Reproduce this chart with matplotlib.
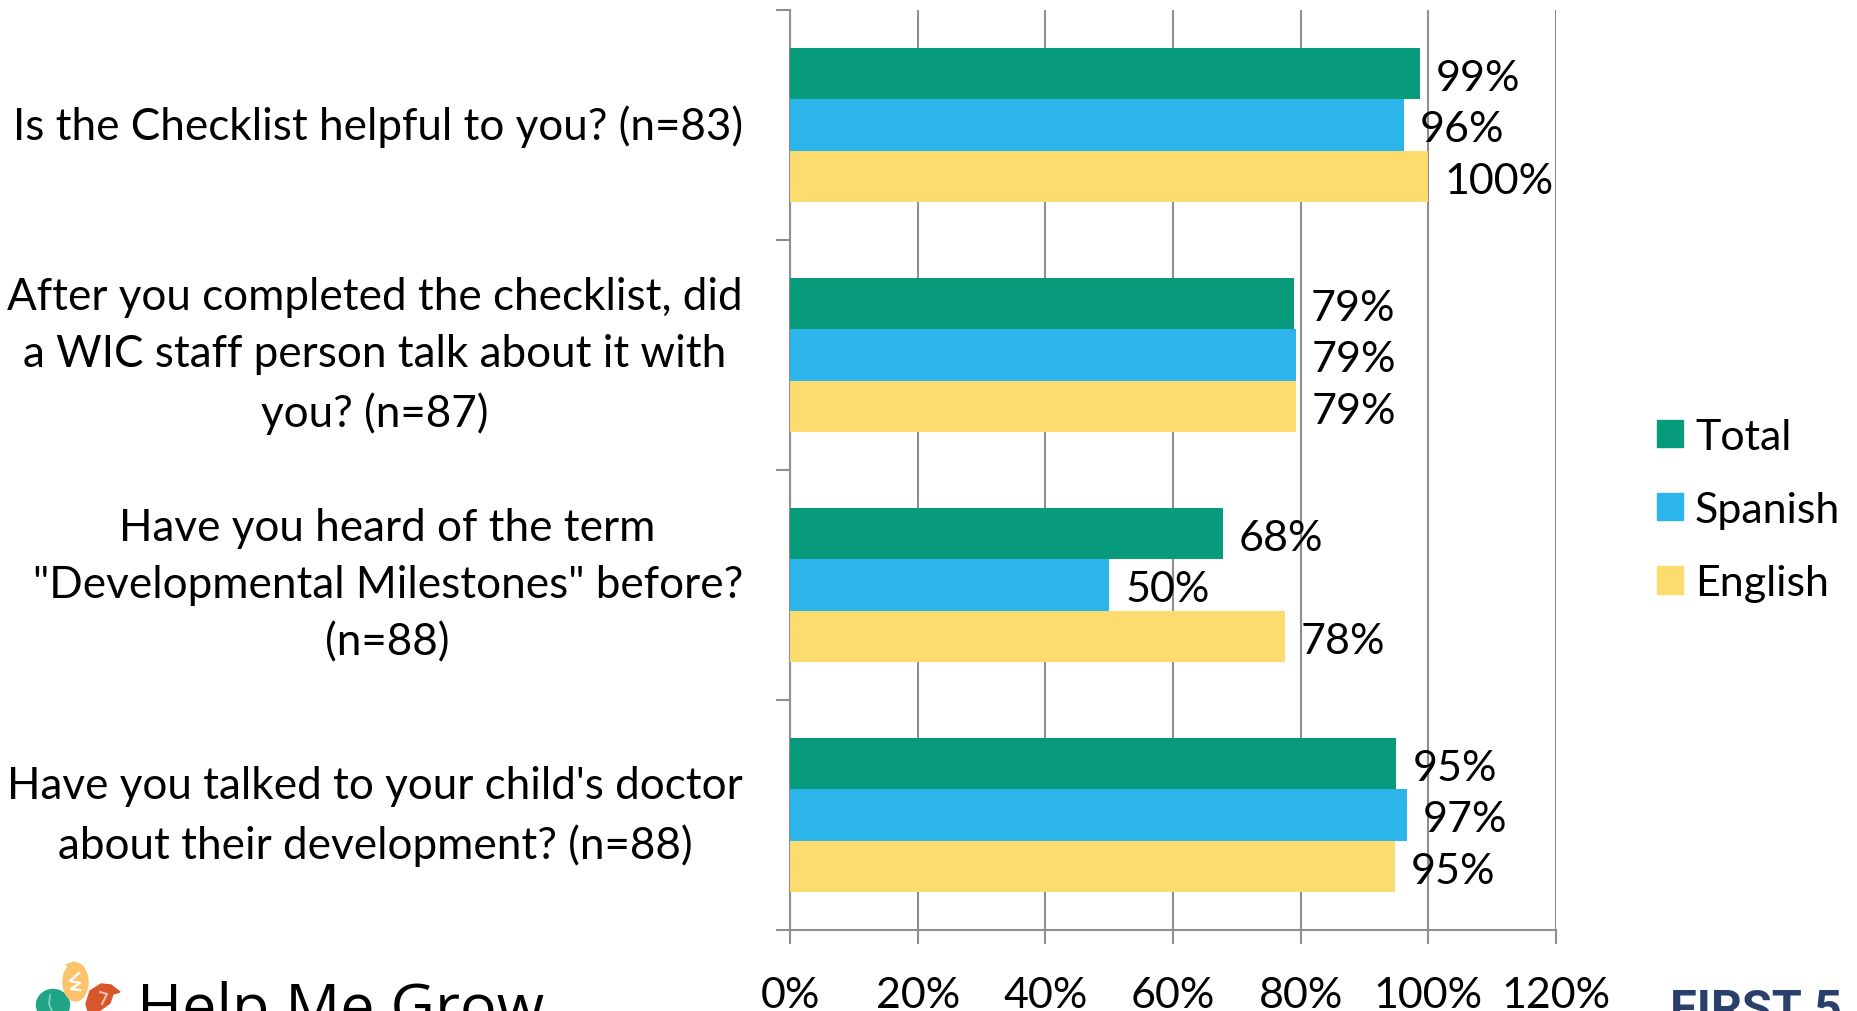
#!/usr/bin/env python3

import matplotlib

matplotlib.use("Agg")
import matplotlib.pyplot as plt
from matplotlib.patches import Ellipse, Patch, Polygon
from matplotlib.transforms import ScaledTranslation

questions = [
    "Is the Checklist helpful to you? (n=83)",
    "After you completed the checklist, did\na WIC staff person talk about it with\nyou? (n=87)",
    'Have you heard of the term\n"Developmental Milestones" before?\n(n=88)',
    "Have you talked to your child's doctor\nabout their development? (n=88)",
]
total = [98.7, 79.0, 67.8, 95.0]
spanish = [96.2, 79.2, 50.0, 96.7]
english = [100.0, 79.2, 77.5, 94.8]
series_names = ["Total", "Spanish", "English"]
series_colors = ["#079b7c", "#2cb5ea", "#fcdc6e"]
x_ticks = [0, 20, 40, 60, 80, 100, 120]

W, H = 1858, 1012
GRID = "#8e8e8e"
FS = 31

plt.rcParams["font.family"] = ["Lato", "DejaVu Sans"]

fig = plt.figure(figsize=(W / 100, H / 100), dpi=100)
ax = fig.add_axes([790 / W, 1 - 931 / H, (1556 - 790) / W, 920 / H])

# ...Three bars per question, Total on top
bar_h = 51.5 / 230
for i, (vals, name, color) in enumerate(zip([total, spanish, english], series_names, series_colors)):
    pos = [q + (i - 1) * bar_h for q in range(len(questions))]
    bars = ax.barh(pos, vals, height=bar_h, color=color, zorder=3)
    for b, v in zip(bars, vals):
        ax.annotate(
            "{:.0f}%".format(v),
            (v, b.get_y() + b.get_height() / 2),
            xytext=(11.5, -3),
            textcoords="offset points",
            va="center",
            ha="left",
            fontsize=FS,
            color="black",
            zorder=4,
        )

ax.set_xlim(0, 120)
ax.set_ylim(3.5, -0.5)
ax.set_xticks(x_ticks)
ax.set_xticklabels(["{:d}%".format(t) for t in x_ticks], fontsize=FS)
ax.set_yticks(range(len(questions)))
ax.set_yticklabels(questions, fontsize=31.7, multialignment="center", linespacing=1.5)
ax.grid(axis="x", color=GRID, linewidth=1.5, zorder=1)

for s in ["top", "right"]:
    ax.spines[s].set_visible(False)
for s in ["left", "bottom"]:
    ax.spines[s].set_color(GRID)
    ax.spines[s].set_linewidth(1.5)

# ...Ticks sit on the band edges on the y axis, labels in the band centres
ax.set_yticks([-0.5, 0.5, 1.5, 2.5, 3.5], minor=True)
ax.tick_params(axis="y", which="minor", length=10, width=1.5, color=GRID)
ax.tick_params(axis="y", which="major", length=0, pad=34)
ax.tick_params(axis="x", length=10, width=1.5, color=GRID, pad=23)

# ...Wrapped labels sit a bit higher than matplotlib centres them
for label in ax.get_yticklabels():
    up = 9 if "\n" in label.get_text() else 2.5
    label.set_transform(label.get_transform() + ScaledTranslation(0, up / 72, fig.dpi_scale_trans))

handles = [Patch(color=c, label=n) for n, c in zip(series_names, series_colors)]
fig.legend(
    handles=handles,
    loc="center left",
    bbox_to_anchor=(1657 / W, 1 - 511 / H),
    frameon=False,
    fontsize=FS,
    handlelength=0.6,
    handleheight=0.6,
    handletextpad=0.28,
    labelspacing=0.82,
    borderpad=0,
    borderaxespad=0,
)

# ...Logos at the bottom, cut by the edge of the page
over = fig.add_axes([0, 0, 1, 1], zorder=5)
over.set_xlim(0, W)
over.set_ylim(H, 0)
over.axis("off")

over.add_patch(Ellipse((53, 1006), 33, 31, color="#1fa586"))
over.plot([50, 49, 52], [996, 1005, 1012], color="#8fd2c2", linewidth=1.2)

over.add_patch(Ellipse((75.5, 983), 25, 38, color="#fcc46a"))
over.add_patch(Polygon([(66, 966), (74, 963), (84, 968), (76, 972)], color="#fcc46a"))
over.plot([79, 70, 80, 71, 80], [974, 982, 984, 990, 991], color="white", linewidth=1.6)

over.add_patch(Polygon([(86, 1005), (90, 992), (101, 985), (111, 986), (120, 993), (113, 995), (110, 1004), (99, 1012), (88, 1012)], color="#d9552b"))
over.plot([102, 107, 100], [1005, 995, 993], color="#f3c9b6", linewidth=1.4)

over.text(137, 1027, "Help Me Grow", fontsize=44, family="Open Sans", color="black", va="baseline")
over.text(1670, 1024, "FIRST 5", fontsize=35, family="Roboto", fontweight="bold", color="#2a3f6b", va="baseline")

fig.savefig("out.png", dpi=100)
